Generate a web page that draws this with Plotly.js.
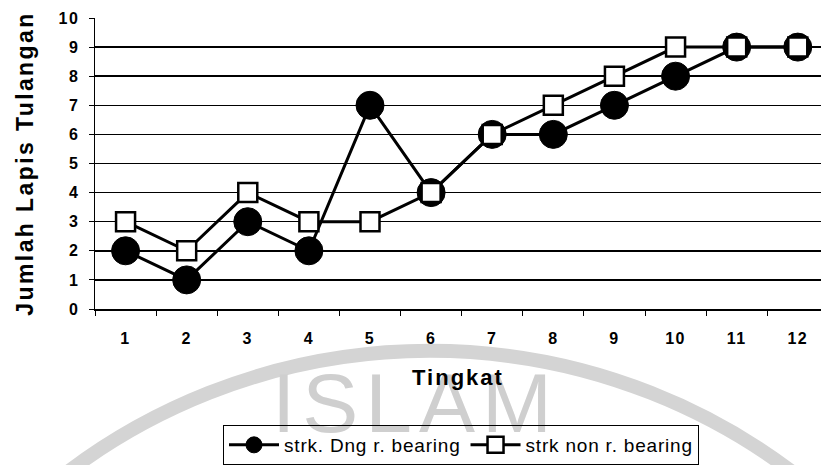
<!DOCTYPE html>
<html>
<head>
<meta charset="utf-8">
<script src="https://cdn.plot.ly/plotly-3.0.1.min.js"></script>
<style>
html,body{margin:0;padding:0;background:#fff;}
#chart{width:821px;height:465px;}
.legendtext{letter-spacing:0.8px;}
.ytitle{letter-spacing:2.4px;}
.xtitle{letter-spacing:2px;}
.xtick text,.ytick text{letter-spacing:1.5px;}
</style>
</head>
<body>
<div id="chart"></div>
<script>
var categories = ['1','2','3','4','5','6','7','8','9','10','11','12'];
var seriesNames = ['strk. Dng r. bearing', 'strk non r. bearing'];
var dngBearing = [2, 1, 3, 2, 7, 4, 6, 6, 7, 8, 9, 9];
var nonBearing = [3, 2, 4, 3, 3, 4, 6, 7, 8, 9, 9, 9];
var yTicks = [0,1,2,3,4,5,6,7,8,9,10];
var yTickText = ['<b>0</b>','<b>1</b>','<b>2</b>','<b>3</b>','<b>4</b>','<b>5</b>','<b>6</b>','<b>7</b>','<b>8</b>','<b>9</b>','<b>10</b>'];
var xTickText = ['<b>1</b>','<b>2</b>','<b>3</b>','<b>4</b>','<b>5</b>','<b>6</b>','<b>7</b>','<b>8</b>','<b>9</b>','<b>10</b>','<b>11</b>','<b>12</b>'];

var FONT = 'Arial, "Liberation Sans", sans-serif';
var HS = '\u200A';

var traces = [
  {
    x: categories, y: dngBearing, name: seriesNames[0], type: 'scatter', mode: 'lines+markers',
    line: {color: '#000', width: 3},
    marker: {symbol: 'circle', size: 28, color: '#000', line: {color: '#000', width: 1}}
  },
  {
    x: categories, y: nonBearing, name: seriesNames[1], type: 'scatter', mode: 'lines+markers',
    line: {color: '#000', width: 3},
    marker: {symbol: 'square', size: 19, color: '#fff', line: {color: '#000', width: 2.5}}
  }
];

// pixel -> paper helpers for decorative watermark
function px(x){ return (x - 95) / 726; }
function py(y){ return (310 - y) / 292; }

var layout = {
  width: 821, height: 465,
  margin: {l: 95, r: 0, t: 18, b: 155},
  paper_bgcolor: '#fff', plot_bgcolor: '#fff',
  font: {family: FONT, color: '#000', size: 17},
  showlegend: true,
  legend: {
    orientation: 'h', x: px(461), xanchor: 'center', y: py(427), yanchor: 'top',
    bordercolor: '#000', borderwidth: 1, font: {size: 19, family: FONT},
    itemwidth: 50, tracegroupgap: 0, bgcolor: 'rgba(255,255,255,0)'
  },
  xaxis: {
    type: 'category', range: [-0.5, 11.38],
    tickvals: categories, ticktext: xTickText,
    tickson: 'boundaries', ticks: 'outside', ticklen: 5, tickcolor: '#000',
    ticklabelstandoff: 14,
    showline: true, linecolor: '#000', linewidth: 1.5, showgrid: false,
    tickfont: {size: 16, family: FONT},
    title: {text: '<b>Tingkat</b>', font: {size: 22, family: FONT}, standoff: 24}
  },
  yaxis: {
    range: [0, 10], tickvals: yTicks, ticktext: yTickText,
    ticks: 'outside', ticklen: 5, tickcolor: '#000', ticklabelstandoff: 6,
    showline: true, linecolor: '#000', linewidth: 1.5,
    showgrid: true, gridcolor: '#000', gridwidth: 1.5, zeroline: false,
    tickfont: {size: 16, family: FONT},
    title: {text: '<b>Jumlah Lapis Tulangan</b>', font: {size: 23, family: FONT}, standoff: 18}
  },
  shapes: [
    {
      type: 'circle', xref: 'paper', yref: 'paper',
      x0: px(430 - 600), x1: px(430 + 600), y0: py(952 + 600), y1: py(952 - 600),
      line: {width: 14, color: '#d4d4d4'}, fillcolor: 'rgba(0,0,0,0)', layer: 'below'
    },
    {
      type: 'rect', xref: 'paper', yref: 'paper', x0: px(262), x1: px(562), y0: py(440), y1: py(352),
      line: {width: 0}, fillcolor: 'rgba(0,0,0,0)', layer: 'below',
      label: {text: 'I' + HS + 'S' + HS + 'L' + HS + 'A' + HS + 'M', font: {size: 84, color: '#cfcfcf', family: FONT}, textposition: 'middle center'}
    }
  ]
};

Plotly.newPlot('chart', traces, layout, {displayModeBar: false, staticPlot: true});
</script>
</body>
</html>
